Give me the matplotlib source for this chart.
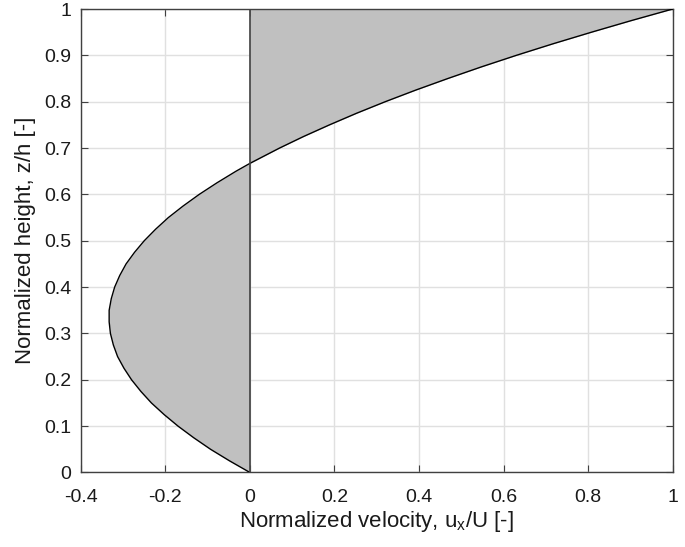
import matplotlib
matplotlib.use("Agg")
import matplotlib.pyplot as plt

plt.rcParams['font.family'] = ['Liberation Sans', 'DejaVu Sans']
plt.rcParams['mathtext.fontset'] = 'custom'
plt.rcParams['mathtext.rm'] = 'Liberation Sans'
plt.rcParams['mathtext.it'] = 'Liberation Sans'
plt.rcParams['mathtext.default'] = 'regular'

# Normalized height z/h and velocity u_x/U
z_vals = [0.0, 0.025, 0.05, 0.075, 0.1, 0.125, 0.15, 0.175, 0.2, 0.225,
          0.25, 0.275, 0.3, 0.325, 0.35, 0.375, 0.4, 0.425, 0.45, 0.475,
          0.5, 0.525, 0.55, 0.575, 0.6, 0.625, 0.65, 0.667, 0.675, 0.7,
          0.725, 0.75, 0.775, 0.8, 0.825, 0.85, 0.875, 0.9, 0.925, 0.95,
          0.975, 1.0]
u_vals = [0.0, -0.048, -0.093, -0.133, -0.17, -0.203, -0.233, -0.258, -0.28, -0.298,
          -0.313, -0.323, -0.33, -0.333, -0.333, -0.328, -0.32, -0.308, -0.293, -0.273,
          -0.25, -0.223, -0.193, -0.158, -0.12, -0.078, -0.033, 0.0, 0.017, 0.07,
          0.127, 0.188, 0.252, 0.32, 0.392, 0.468, 0.547, 0.63, 0.717, 0.808,
          0.902, 1.0]

x_ticks = [-0.4, -0.2, 0, 0.2, 0.4, 0.6, 0.8, 1]
x_tick_labels = ['-0.4', '-0.2', '0', '0.2', '0.4', '0.6', '0.8', '1']
y_ticks = [0, 0.1, 0.2, 0.3, 0.4, 0.5, 0.6, 0.7, 0.8, 0.9, 1]
y_tick_labels = ['0', '0.1', '0.2', '0.3', '0.4', '0.5', '0.6', '0.7', '0.8', '0.9', '1']

fig = plt.figure(figsize=(6.85, 5.47), dpi=100)
ax = fig.add_axes([0.118, 0.1362, 0.864, 0.8473])

ax.fill_betweenx(z_vals, 0, u_vals, color='#c0c0c0', linewidth=0, zorder=2)
ax.plot(u_vals, z_vals, color='black', linewidth=1.0, zorder=3)
ax.plot([0, 0], [0, 1], color='#404040', linewidth=1.2, zorder=3)

ax.set_xlim(-0.4, 1)
ax.set_ylim(0, 1)
ax.set_xticks(x_ticks)
ax.set_xticklabels(x_tick_labels)
ax.set_yticks(y_ticks)
ax.set_yticklabels(y_tick_labels)

ax.grid(True, color='#e0e0e0', linewidth=1.0, zorder=0)
ax.set_axisbelow(True)

for s in ax.spines.values():
    s.set_color('#404040')
    s.set_linewidth(1.0)

ax.tick_params(direction='in', length=5, width=0.8, colors='#404040',
               top=True, right=True, labelsize=14, labelcolor='#1a1a1a')
ax.tick_params(axis='x', pad=12)
ax.tick_params(axis='y', pad=7)

ax.set_xlabel('Normalized velocity, u$_x$/U [-]', fontsize=16, color='#1a1a1a', labelpad=2)
ax.set_ylabel('Normalized height, z/h [-]', fontsize=16, color='#1a1a1a', labelpad=6)

fig.savefig('out.png', dpi=100)
